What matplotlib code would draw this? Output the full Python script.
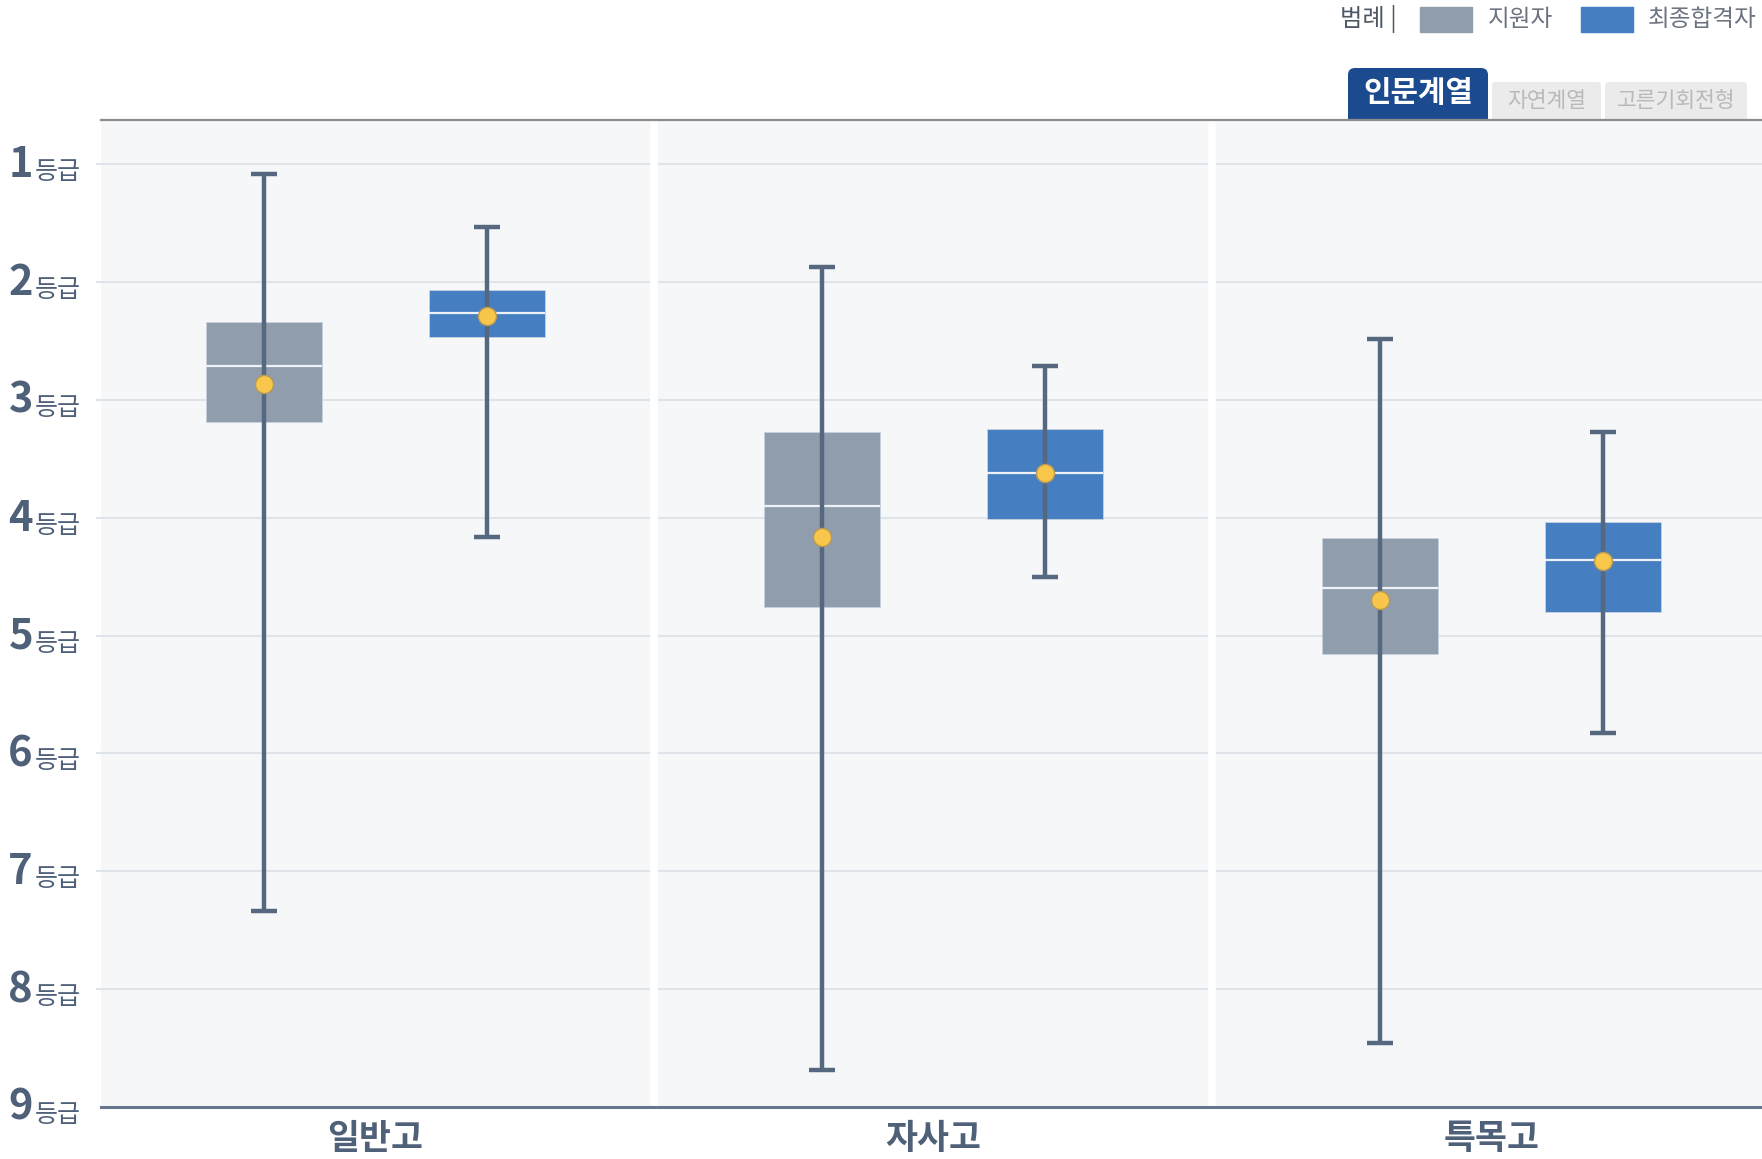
import matplotlib
matplotlib.use('Agg')
import matplotlib.pyplot as plt
from matplotlib.patches import Rectangle, FancyBboxPatch

plt.rcParams['font.family'] = ['Noto Sans CJK KR', 'DejaVu Sans']

# data (grade values, 1 = best)
categories = ['일반고', '자사고', '특목고']
grades = [1, 2, 3, 4, 5, 6, 7, 8, 9]

app_top = [1.08, 1.87, 2.48]
app_q1 = [2.34, 3.27, 4.17]
app_med = [2.71, 3.90, 4.60]
app_q3 = [3.19, 4.76, 5.16]
app_bottom = [7.34, 8.69, 8.46]
app_mean = [2.87, 4.16, 4.70]

pass_top = [1.53, 2.71, 3.27]
pass_q1 = [2.07, 3.25, 4.04]
pass_med = [2.26, 3.62, 4.36]
pass_q3 = [2.47, 4.01, 4.80]
pass_bottom = [4.16, 4.50, 5.83]
pass_mean = [2.29, 3.62, 4.37]

legend_labels = ['지원자', '최종합격자']
tab_labels = ['인문계열', '자연계열', '고른기회전형']

W, H = 1762, 1159
fig = plt.figure(figsize=(W / 100, H / 100), dpi=100)
fig.patch.set_facecolor('white')

ax = fig.add_axes([101 / W, (H - 1107) / H, 1 - 101 / W, (1107 - 120) / H])
ax.set_facecolor('#f5f7f9')
ax.set_xlim(-0.492, 2.485)
ax.set_ylim(9, 0.626)

grid_c = '#dfe4ea'
line_c = '#56687f'
text_c = '#4f6079'
gray_c = '#8f9dad'
blue_c = '#457ec1'

ax.set_yticks(grades[:-1])
ax.set_yticklabels([])
ax.tick_params(axis='y', length=3.6, width=1.5, color=grid_c)
ax.grid(axis='y', color=grid_c, lw=1.5, zorder=0)
ax.set_axisbelow(True)
for s in ['top', 'right', 'left']:
    ax.spines[s].set_visible(False)
ax.spines['bottom'].set_color('#66778d')
ax.spines['bottom'].set_linewidth(2.2)

ax.set_xticks(range(len(categories)))
ax.set_xticklabels(categories, fontsize=25, fontweight='bold', color=text_c)
ax.tick_params(axis='x', length=0, pad=10)

for xs in [0.5, 1.5]:
    ax.axvline(xs, color='white', lw=5.5, zorder=1)

# y tick labels: big number + small 등급
for g in grades:
    ax.annotate(str(g), xy=(0, g), xycoords=ax.get_yaxis_transform(),
                xytext=(-68, -1), textcoords='offset pixels',
                ha='right', va='center', fontsize=30, fontweight='bold', color=text_c)
    ax.annotate('등급', xy=(0, g), xycoords=ax.get_yaxis_transform(),
                xytext=(-66, -8), textcoords='offset pixels',
                ha='left', va='center', fontsize=18, color=text_c)

off = 0.2
bw = 0.207
cw = 0.046


def draw_box(xs, top, q1, med, q3, bottom, mean, color):
    ax.bar(xs, [b - a for a, b in zip(q1, q3)], bottom=q1, width=bw,
           color=color, edgecolor='#c8d2de', linewidth=0.6, zorder=2)
    ax.hlines(med, [x - bw / 2 for x in xs], [x + bw / 2 for x in xs],
              color='#eef2f6', lw=1.6, zorder=3)
    ax.vlines(xs, top, bottom, color=line_c, lw=3.2, zorder=4)
    ax.hlines(top + bottom, [x - cw / 2 for x in xs] * 2, [x + cw / 2 for x in xs] * 2,
              color=line_c, lw=3.2, zorder=4)
    ax.plot(xs, mean, 'o', ms=13, mfc='#f7c64b', mec='#b99a52', mew=1.0, zorder=5)


x_app = [i - off for i in range(len(categories))]
x_pass = [i + off for i in range(len(categories))]
draw_box(x_app, app_top, app_q1, app_med, app_q3, app_bottom, app_mean, gray_c)
draw_box(x_pass, pass_top, pass_q1, pass_med, pass_q3, pass_bottom, pass_mean, blue_c)

# overlay in pixel coordinates for legend and tabs
ov = fig.add_axes([0, 0, 1, 1])
ov.set_xlim(0, W)
ov.set_ylim(H, 0)
ov.axis('off')
ov.patch.set_alpha(0)

ov.text(1340, 19, '범례 |', fontsize=17.5, color='#4e5966', va='center', ha='left')
ov.add_patch(Rectangle((1420, 7), 52, 25, color=gray_c))
ov.text(1488, 19, legend_labels[0], fontsize=17, color='#6b7480', va='center', ha='left')
ov.add_patch(Rectangle((1581, 7), 52, 25, color=blue_c))
ov.text(1648, 19, legend_labels[1], fontsize=17, color='#6b7480', va='center', ha='left')

# tabs
clip = Rectangle((0, 0), W, 119, transform=ov.transData)
active = FancyBboxPatch((1348, 68), 140, 62, boxstyle='round,pad=0,rounding_size=7',
                        fc='#1b4a8f', ec='none')
ov.add_patch(active)
active.set_clip_path(clip)
ov.text(1418, 93, tab_labels[0], fontsize=21.5, fontweight='bold', color='white',
        ha='center', va='center')
for (x0, x1), lab in zip([(1492, 1601), (1605, 1747)], tab_labels[1:]):
    p = FancyBboxPatch((x0, 82), x1 - x0, 50, boxstyle='round,pad=0,rounding_size=3',
                       fc='#ebebeb', ec='none')
    ov.add_patch(p)
    p.set_clip_path(clip)
    ov.text((x0 + x1) / 2, 101, lab, fontsize=15.5, color='#b9b9b9',
            ha='center', va='center')

ov.plot([101, W], [120, 120], color='#8c8c8c', lw=1.6)

fig.savefig('out.png', dpi=100)
